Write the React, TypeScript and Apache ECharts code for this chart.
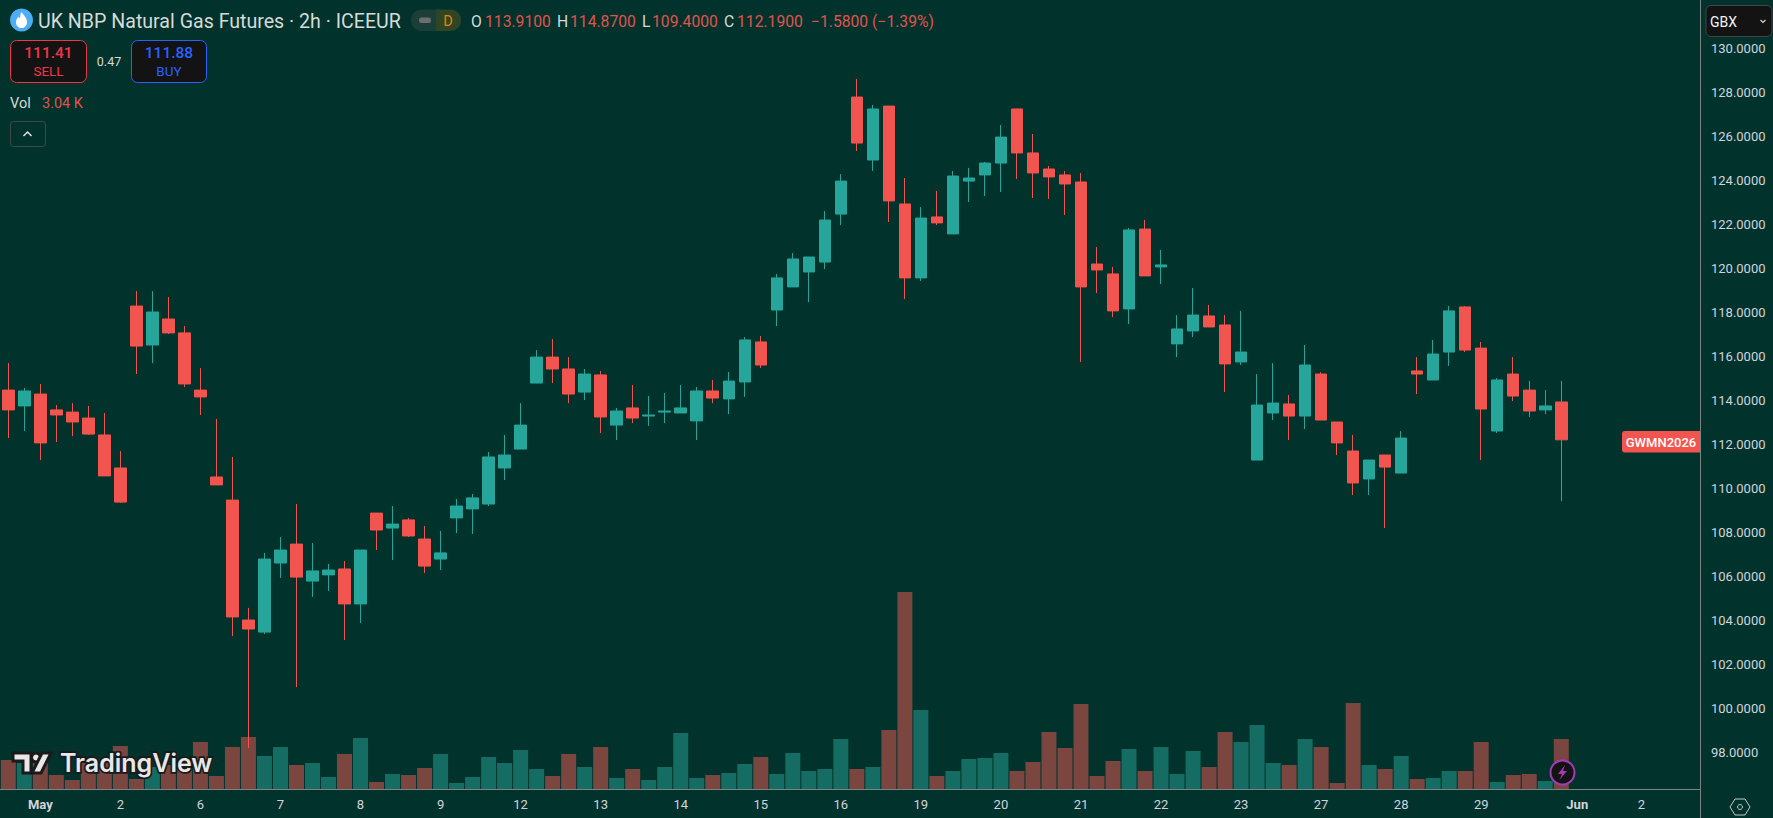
import React, { useEffect, useRef } from "react";
import * as echarts from "echarts";

const opens = [114.45,113.73,114.27,113.55,113.45,113.18,112.41,110.91,118.27,116.5,117.68,117.05,114.45,110.5,109.45,104.0,103.45,106.59,107.45,105.77,106.05,106.32,104.73,108.86,108.18,108.55,107.68,106.77,
  108.64,109.05,109.27,110.91,111.77,114.77,115.95,115.41,114.36,115.14,112.86,113.64,113.27,113.45,113.41,113.05,114.41,114.05,114.82,116.64,118.09,119.14,119.82,120.27,122.45,127.77,124.91,127.36,
  122.91,119.55,122.32,121.55,123.95,124.23,124.77,127.23,125.23,124.5,124.23,123.91,120.18,119.73,118.14,121.77,120.05,116.55,117.14,117.82,117.41,115.73,
  111.27,113.41,113.82,113.27,115.18,113.0,111.68,110.41,111.5,110.68,115.32,114.91,116.18,118.23,116.36,112.59,115.18,114.45,113.55,113.91];
const closes = [113.55,114.41,112.05,113.32,113.0,112.45,110.55,109.36,116.45,118.0,117.05,114.73,114.14,110.14,104.14,103.59,106.77,107.18,105.95,106.23,106.27,104.73,107.18,108.09,108.36,107.82,106.45,107.05,
  109.18,109.55,111.41,111.5,112.86,115.95,115.41,114.27,115.18,113.23,113.5,113.18,113.32,113.5,113.64,114.41,114.09,114.86,116.73,115.59,119.55,120.41,120.5,122.18,123.95,125.68,127.23,123.05,
  119.55,122.27,122.05,124.18,124.09,124.77,125.95,125.23,124.32,124.14,123.82,119.14,119.91,118.05,121.73,119.64,120.14,117.23,117.86,117.32,115.64,116.18,
  113.77,113.86,113.27,115.59,113.09,112.05,110.23,111.27,110.95,112.27,115.18,116.09,118.05,116.27,113.59,114.91,114.18,113.5,113.73,112.19];
const lows = [112.27,112.59,111.27,112.09,112.36,112.41,110.55,109.32,115.18,115.68,117.0,114.59,113.32,110.14,103.27,98.18,103.36,105.91,100.95,105.05,105.32,103.09,103.86,107.18,106.73,107.77,106.14,106.27,
  107.95,107.91,109.18,110.36,111.77,114.77,114.77,113.86,114.0,112.5,112.18,112.95,112.82,112.95,113.41,112.18,113.86,113.36,114.14,115.45,117.36,119.14,118.45,119.95,121.95,125.32,124.41,122.09,
  118.59,119.41,121.95,121.55,123.0,123.27,123.45,124.05,123.18,123.14,122.41,115.73,118.86,117.77,117.45,119.64,119.27,115.95,116.86,117.32,114.36,115.59,
  111.27,113.09,112.18,112.68,113.09,111.5,109.68,109.68,108.18,110.68,114.27,114.91,115.55,116.18,111.27,112.5,113.95,113.23,113.36,109.4];
const highs = [115.68,114.55,114.73,113.77,113.86,113.73,113.41,111.68,118.95,118.95,118.68,117.36,115.45,113.14,111.41,104.55,107.05,107.77,109.27,107.5,106.55,106.68,107.18,108.86,109.18,108.64,108.27,108.05,
  109.5,109.73,111.64,112.41,113.86,116.27,116.77,115.95,115.41,115.32,113.64,114.68,114.18,114.32,114.68,114.59,114.91,115.27,116.86,116.91,119.73,120.68,120.5,122.59,124.27,128.59,127.41,127.36,
  124.09,122.77,123.5,124.41,124.55,124.82,126.5,127.23,126.09,124.64,124.41,124.32,120.95,120.05,121.82,122.18,120.82,117.86,119.09,118.32,117.86,118.05,
  115.18,115.68,114.23,116.5,115.27,113.0,112.41,111.27,111.5,112.59,115.95,116.73,118.27,118.27,116.64,115.0,115.95,114.87,114.45,114.87];
const volumes = [1763,1581,1581,851,547,1581,1581,2614,608,1338,1459,1459,2858,790,2554,3162,2006,2554,1459,1581,730,2128,3101,426,912,851,1277,2128,365,730,1946,1581,2371,1216,790,2128,1338,2554,
  669,1216,547,1338,3405,669,851,973,1520,1946,912,2189,1094,1216,3040,1216,1338,3587,11978,4803,790,1094,1824,1885,2189,1094,1642,3466,2493,5168,790,1702,2432,1094,2554,912,2310,
  1338,3466,2858,3891,1581,1459,3040,2554,365,5229,1459,1216,2006,608,669,1094,1094,2858,426,851,912,486,3040];

const dateTicks: Record<number, string> = { 2: "May", 7: "2", 12: "6", 17: "7", 22: "8", 27: "9", 32: "12", 37: "13", 42: "14", 47: "15", 52: "16", 57: "19", 62: "20", 67: "21", 72: "22", 77: "23", 82: "27", 87: "28", 92: "29", 98: "Jun", 102: "2" };
const slotCount = 106;
const categories = Array.from({ length: slotCount }, (_, i) => dateTicks[i] ?? "");

const BG = "#01332C";
const UP = "#26A69A";
const DOWN = "#F2554F";
const VOL_UP = "#146C62";
const VOL_DOWN = "#7B4540";
const TXT = "#D1D4DC";
const FONT = "Roboto, sans-serif";

function label(text: string, x: number, y: number, fill: string, size: number, extra: any = {}) {
  return {
    type: "text",
    style: { text, x, y, fill, fontSize: size, fontFamily: FONT, fontWeight: extra.weight ?? 400, align: extra.align ?? "left", verticalAlign: "middle", ...(extra.style ?? {}) },
  };
}

echarts.graphic.registerShape("flame", echarts.graphic.extendPath("M0 -8 C3 -4 5.5 -1.5 5.5 2 C5.5 6 2.8 8 0 8 C-2.8 8 -5.5 6 -5.5 2 C-5.5 0 -4.2 -1.5 -3.4 -3.5 C-2.6 -2.5 -2 -2 -1.4 -1.6 C-1.4 -3.5 -1.2 -6 0 -8 Z", {}) as any);

const LOGO_STROKE = { stroke: "#1A1A1A", lineWidth: 3 };

const overlays: any[] = [
  // axis rules
  { type: "line", shape: { x1: 0, y1: 789.5, x2: 1700, y2: 789.5 }, style: { stroke: "#7B8583", lineWidth: 1 } },
  { type: "line", shape: { x1: 1700.5, y1: 0, x2: 1700.5, y2: 818 }, style: { stroke: "#7B8583", lineWidth: 1 } },
  // header
  { type: "circle", shape: { cx: 21.5, cy: 20, r: 11.5 }, style: { fill: "#4DAEF5" } },
  { type: "flame", x: 21.5, y: 20, style: { fill: "#FFFFFF" } },
  label("UK NBP Natural Gas Futures · 2h · ICEEUR", 38, 21, "#D6DAD9", 19.6),
  { type: "rect", shape: { x: 411, y: 9.5, width: 30, height: 21.5, r: [10, 0, 0, 10] }, style: { fill: "#1B3F38" } },
  { type: "rect", shape: { x: 436, y: 9.5, width: 25, height: 21.5, r: [0, 10, 10, 0] }, style: { fill: "#2E4526" } },
  { type: "rect", shape: { x: 419, y: 17.5, width: 12, height: 5.5, r: 2.5 }, style: { fill: "#6A6F6E" } },
  label("D", 448, 21, "#F57C00", 14.5, { align: "center" }),
  label("O", 471, 21, "#D6DAD9", 15.7),
  label("113.9100", 485, 21, "#E0524C", 15.7),
  label("H", 557, 21, "#D6DAD9", 15.7),
  label("114.8700", 570, 21, "#E0524C", 15.7),
  label("L", 642, 21, "#D6DAD9", 15.7),
  label("109.4000", 652, 21, "#E0524C", 15.7),
  label("C", 724, 21, "#D6DAD9", 15.7),
  label("112.1900", 737, 21, "#E0524C", 15.7),
  label("−1.5800 (−1.39%)", 811, 21, "#E0524C", 15.7),
  // sell / buy
  { type: "rect", shape: { x: 10.5, y: 40.5, width: 76, height: 42, r: 6 }, style: { fill: "#131313", stroke: "#F23645", lineWidth: 1 } },
  label("111.41", 48.5, 53, "#F23645", 15.5, { align: "center", weight: 500 }),
  label("SELL", 48.5, 70.5, "#F23645", 13.5, { align: "center" }),
  label("0.47", 109, 61, "#D6DAD9", 12.5, { align: "center" }),
  { type: "rect", shape: { x: 131.5, y: 40.5, width: 75, height: 42, r: 6 }, style: { fill: "#131313", stroke: "#2962FF", lineWidth: 1 } },
  label("111.88", 169, 53, "#2962FF", 15.5, { align: "center", weight: 500 }),
  label("BUY", 169, 70.5, "#2962FF", 13.5, { align: "center" }),
  label("Vol", 10, 103, "#D6DAD9", 14.5),
  label("3.04 K", 42, 103, "#E0524C", 14.5),
  { type: "rect", shape: { x: 10.5, y: 121.5, width: 35, height: 25, r: 3 }, style: { fill: "transparent", stroke: "#3E4A48", lineWidth: 1 } },
  { type: "polyline", shape: { points: [[23.5, 136], [27.5, 132], [31.5, 136]] }, style: { fill: "none", stroke: "#E0E3E3", lineWidth: 1.5 } },
  // currency box
  { type: "rect", shape: { x: 1706, y: 5.5, width: 66, height: 31, r: 5 }, style: { fill: "#131313", stroke: "#444444", lineWidth: 1 } },
  label("GBX", 1710, 22, "#F0F3FA", 14),
  { type: "polyline", shape: { points: [[1760.5, 20], [1763, 22.5], [1765.5, 20]] }, style: { fill: "none", stroke: "#D1D4DC", lineWidth: 1.2 } },
  // symbol tag
  { type: "rect", shape: { x: 1622, y: 431, width: 78, height: 21.5, r: [3, 0, 0, 3] }, style: { fill: DOWN } },
  label("GWMN2026", 1661, 442, "#FFFFFF", 13, { align: "center", weight: 500 }),
  // watermark
  { type: "polygon", shape: { points: [[13, 753], [31, 753], [31, 773], [23, 773], [23, 761], [13, 761]] }, style: { fill: "#E8E8E8", ...LOGO_STROKE } },
  { type: "circle", shape: { cx: 36, cy: 757.5, r: 4.5 }, style: { fill: "#E8E8E8", ...LOGO_STROKE } },
  { type: "polygon", shape: { points: [[42, 753], [51, 753], [41, 773], [32, 773]] }, style: { fill: "#E8E8E8", ...LOGO_STROKE } },
  label("TradingView", 60, 763, "#E8E8E8", 25, { weight: 600, style: { stroke: "#1A1A1A", lineWidth: 3.5, fontFamily: "Inter, sans-serif" } }),
  // lightning badge
  { type: "circle", shape: { cx: 1562.5, cy: 772.5, r: 12 }, style: { fill: "#131313", stroke: "#A23BB5", lineWidth: 2 } },
  { type: "polygon", shape: { points: [[1565, 765], [1558, 774], [1562, 774], [1559.5, 780], [1567, 771], [1563, 771]] }, style: { fill: "#A23BB5" } },
  // settings hex
  { type: "polygon", shape: { points: [[1730, 807], [1735, 799], [1745, 799], [1750, 807], [1745, 815], [1735, 815]] }, style: { fill: "none", stroke: "#C5C9CC", lineWidth: 1 } },
  { type: "circle", shape: { cx: 1740, cy: 807, r: 2.5 }, style: { fill: "none", stroke: "#C5C9CC", lineWidth: 1 } },
].map((el) => ({ ...el, z: 20 }));

export default function App() {
  const ref = useRef<HTMLDivElement>(null);
  useEffect(() => {
    document.body.style.margin = "0";
    const chart = echarts.init(ref.current!, undefined, { renderer: "svg" });
    chart.setOption({
      animation: false,
      backgroundColor: BG,
      grid: [
        { left: 0.3, width: 1697.06, top: 48, height: 748 },
        { left: 0.3, width: 1697.06, top: 589, height: 200 },
      ],
      xAxis: [
        { type: "category", gridIndex: 0, data: categories, show: false },
        {
          type: "category", gridIndex: 1, data: categories,
          axisLine: { show: false }, axisTick: { show: false },
          axisLabel: {
            interval: (_: number, v: string) => v !== "",
            margin: 9, color: TXT, fontSize: 13, fontFamily: FONT, hideOverlap: false,
            formatter: (v: string) => (v === "May" || v === "Jun" ? `{m|${v}}` : v),
            rich: { m: { fontWeight: 700, fontSize: 13, fontFamily: FONT, color: TXT } },
          },
        },
      ],
      yAxis: [
        {
          type: "value", gridIndex: 0, position: "right", min: 96, max: 130, interval: 2,
          splitLine: { show: false }, axisLine: { show: false }, axisTick: { show: false },
          axisLabel: { showMinLabel: false, margin: 13.6, color: TXT, fontSize: 13, fontFamily: FONT, align: "left", formatter: (v: number) => v.toFixed(4) },
        },
        { type: "value", gridIndex: 1, min: 0, max: 12160, show: false },
      ],
      graphic: { elements: overlays },
      series: [
        {
          type: "bar", xAxisIndex: 1, yAxisIndex: 1, barWidth: 15, z: 2,
          data: volumes.map((v, i) => ({ value: v, itemStyle: { color: closes[i] >= opens[i] ? VOL_UP : VOL_DOWN } })),
        },
        {
          type: "candlestick", xAxisIndex: 0, yAxisIndex: 0, barWidth: 12, z: 5,
          itemStyle: { color: UP, color0: DOWN, borderColor: UP, borderColor0: DOWN, borderWidth: 1 },
          data: opens.map((o, i) => [o, closes[i], lows[i], highs[i]]),
        },
      ],
    });
    return () => chart.dispose();
  }, []);
  return <div ref={ref} style={{ position: "absolute", left: 0, top: 0, width: 1773, height: 818 }} />;
}
